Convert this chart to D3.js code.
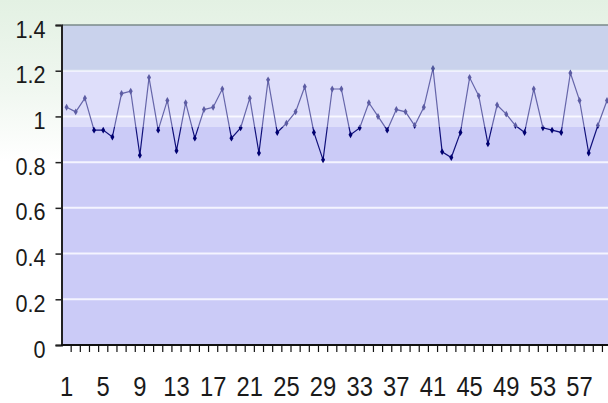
<!DOCTYPE html>
<html>
<head>
<meta charset="utf-8">
<script src="https://cdn.jsdelivr.net/npm/d3@7"></script>
<style>
  html, body { margin: 0; padding: 0; background: #fff; }
  svg { display: block; }
  .axis text { font-family: "Liberation Sans", Arial, sans-serif; fill: #1a1a1a; }
</style>
</head>
<body>
<div id="chart"></div>
<script>
'use strict';

// categories along the x axis (1..60, chart is cut at the right edge)
var categories = d3.range(1, 61);

// tick labels shown under the x axis
var xTickLabels = [1, 5, 9, 13, 17, 21, 25, 29, 33, 37, 41, 45, 49, 53, 57];

// y axis ticks
var yTicks = [0, 0.2, 0.4, 0.6, 0.8, 1, 1.2, 1.4];

// series values
var values = [
  1.04, 1.02, 1.08, 0.94, 0.94, 0.91, 1.10, 1.11, 0.83, 1.17,
  0.94, 1.07, 0.85, 1.06, 0.905, 1.03, 1.04, 1.12, 0.905, 0.95,
  1.08, 0.84, 1.16, 0.93, 0.97, 1.02, 1.13, 0.93, 0.81, 1.12,
  1.12, 0.92, 0.95, 1.06, 1.00, 0.94, 1.03, 1.02, 0.96, 1.04,
  1.21, 0.845, 0.82, 0.93, 1.17, 1.09, 0.88, 1.05, 1.01, 0.96,
  0.93, 1.12, 0.95, 0.94, 0.93, 1.19, 1.07, 0.84, 0.96, 1.07
];

(function () {

  var width = 608, height = 403;
  var plotLeft = 62, plotTop = 25, plotBottom = 345;
  var step = 9.16;

  var svg = d3.select('#chart')
    .append('svg')
    .attr('width', width)
    .attr('height', height);

  var defs = svg.append('defs');
  var bg = defs.append('linearGradient')
    .attr('id', 'bg')
    .attr('x1', 0).attr('y1', 0).attr('x2', 0).attr('y2', 1);
  bg.append('stop').attr('offset', '0%').attr('stop-color', '#e3f1e3');
  bg.append('stop').attr('offset', '22%').attr('stop-color', '#f0f7f0');
  bg.append('stop').attr('offset', '40%').attr('stop-color', '#ffffff');

  svg.append('rect')
    .attr('width', width)
    .attr('height', height)
    .attr('fill', 'url(#bg)');

  var x = d3.scaleBand()
    .domain(categories)
    .range([plotLeft, plotLeft + categories.length * step]);

  var y = d3.scaleLinear()
    .domain([0, 1.4])
    .range([plotBottom, plotTop]);

  // plot area
  svg.append('rect')
    .attr('x', plotLeft)
    .attr('y', y(1.4))
    .attr('width', width - plotLeft)
    .attr('height', y(0) - y(1.4))
    .attr('fill', '#cbcbf7');

  // gridlines
  svg.append('g')
    .selectAll('line')
    .data(yTicks.slice(1, -1))
    .enter()
    .append('line')
    .attr('x1', plotLeft)
    .attr('x2', width)
    .attr('y1', function(d) { return y(d); })
    .attr('y2', function(d) { return y(d); })
    .attr('stroke', '#f4f4ff')
    .attr('stroke-width', 2);

  // the series
  var line = d3.line()
    .x(function(d, i) { return x(categories[i]) + x.bandwidth() / 2; })
    .y(function(d) { return y(d); });

  svg.append('path')
    .datum(values)
    .attr('d', line)
    .attr('fill', 'none')
    .attr('stroke', '#10107a')
    .attr('stroke-width', 1.2);

  svg.append('g')
    .selectAll('path')
    .data(values)
    .enter()
    .append('path')
    .attr('d', d3.symbol().type(d3.symbolDiamond).size(14))
    .attr('transform', function(d, i) {
      return 'translate(' + (x(categories[i]) + x.bandwidth() / 2) + ',' + y(d) + ')';
    })
    .attr('fill', '#000070');

  // faded watermark bands over the upper part of the plot
  svg.append('rect')
    .attr('x', plotLeft).attr('y', y(1.4))
    .attr('width', width - plotLeft).attr('height', y(1.2) - y(1.4))
    .attr('fill', '#c6dcdc').attr('opacity', 0.4);

  svg.append('rect')
    .attr('x', plotLeft).attr('y', y(1.2))
    .attr('width', width - plotLeft).attr('height', 127 - y(1.2))
    .attr('fill', '#ffffff').attr('opacity', 0.36);

  // top border of plot area
  svg.append('line')
    .attr('x1', plotLeft).attr('x2', width)
    .attr('y1', y(1.4)).attr('y2', y(1.4))
    .attr('stroke', '#7a8a8a').attr('stroke-width', 1.5);

  // condense text a little, like the source
  function squeeze(sel, k) {
    sel.each(function() {
      var w = this.getComputedTextLength();
      d3.select(this)
        .attr('textLength', w * k)
        .attr('lengthAdjust', 'spacingAndGlyphs');
    });
  }

  // y axis
  var yAxis = svg.append('g')
    .attr('class', 'axis')
    .attr('transform', 'translate(' + (plotLeft - 0.5) + ',0)')
    .call(d3.axisLeft(y)
      .tickValues(yTicks)
      .tickSize(6)
      .tickPadding(10)
      .tickFormat(d3.format('~g')));

  yAxis.select('.domain').attr('stroke', '#222').attr('stroke-width', 2);
  yAxis.selectAll('.tick line').attr('stroke', '#222').attr('stroke-width', 1.5);
  yAxis.selectAll('text')
    .attr('font-size', 24)
    .attr('dy', '0.5em')
    .call(squeeze, 0.9);

  // x axis: labels under category centres
  var xAxis = svg.append('g')
    .attr('class', 'axis')
    .attr('transform', 'translate(0,' + plotBottom + ')')
    .call(d3.axisBottom(x)
      .tickValues(xTickLabels)
      .tickSize(0)
      .tickPadding(32));

  xAxis.select('.domain').remove();
  xAxis.selectAll('text')
    .attr('font-size', 27)
    .call(squeeze, 0.88);

  // x axis line and tick marks between categories
  svg.append('line')
    .attr('x1', plotLeft - 1).attr('x2', width)
    .attr('y1', plotBottom).attr('y2', plotBottom)
    .attr('stroke', '#111').attr('stroke-width', 2);

  svg.append('g')
    .selectAll('line')
    .data(categories)
    .enter()
    .append('line')
    .attr('x1', function(d) { return x(d) + x.step(); })
    .attr('x2', function(d) { return x(d) + x.step(); })
    .attr('y1', plotBottom)
    .attr('y2', plotBottom + 7)
    .attr('stroke', '#111')
    .attr('stroke-width', 1.2);

})();
</script>
</body>
</html>
